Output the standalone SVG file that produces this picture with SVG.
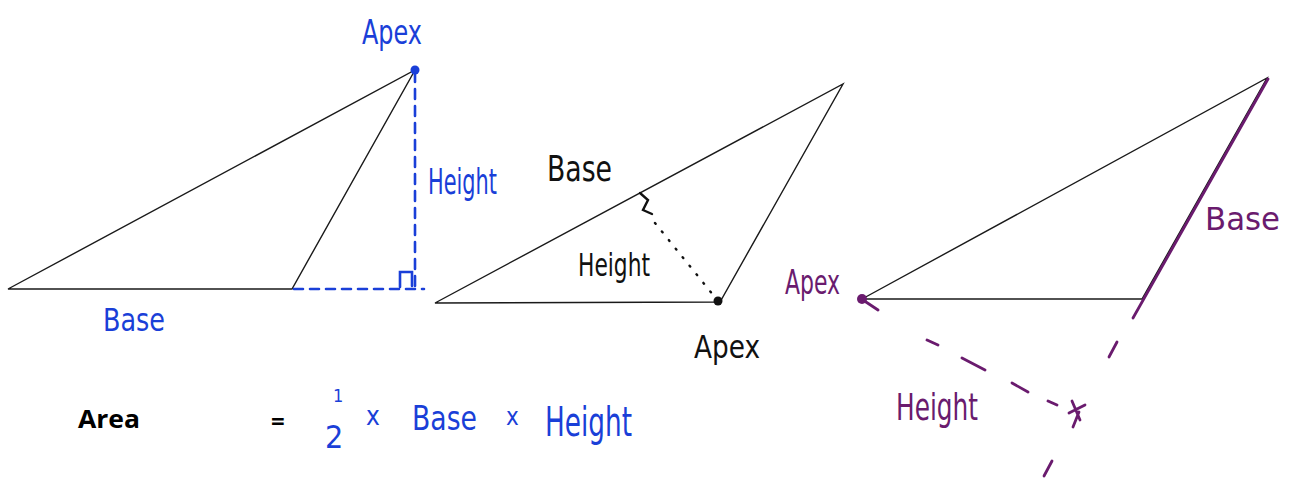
<svg xmlns="http://www.w3.org/2000/svg" width="1297" height="478" viewBox="0 0 1297 478">
<style>
.tri{fill:none;stroke:#1a1a1a;stroke-width:1.4;stroke-linejoin:miter}
.hw{font-family:"DejaVu Sans Condensed","DejaVu Sans","Liberation Sans",sans-serif}
.blue{fill:#1a3fd8}
.blk{fill:#111}
.pur{fill:#6a1b6e}
.bs{stroke:#1a3fd8;fill:none;stroke-width:2.6;stroke-linecap:round}
.ps{stroke:#6a1b6e;fill:none;stroke-width:2.8;stroke-linecap:round}
.ks{stroke:#111;fill:none;stroke-width:2.4;stroke-linecap:round}
</style>
<rect width="1297" height="478" fill="#fff"/>

<g id="triangle1">
<polygon class="tri" points="8,289 292,289 415,70"/>
<line class="bs" x1="415" y1="72" x2="415" y2="286" stroke-dasharray="10 7"/>
<line class="bs" x1="294" y1="289" x2="424" y2="289" stroke-dasharray="9 7"/>
<path class="bs" d="M400,287 L400,272 L412,272 L412,286"/>
<circle cx="415" cy="70" r="4.5" fill="#1a3fd8"/>
<text class="hw blue" x="362" y="44" font-size="34" textLength="60" lengthAdjust="spacingAndGlyphs">Apex</text>
<text class="hw blue" x="428" y="194" font-size="36" textLength="69" lengthAdjust="spacingAndGlyphs">Height</text>
<text class="hw blue" x="103" y="331" font-size="32" textLength="62" lengthAdjust="spacingAndGlyphs">Base</text>
</g>

<g id="triangle2">
<polygon class="tri" points="435,303 720,302 843,84"/>
<path class="ks" d="M640,193 L648,200 L643,210 L652,214"/>
<line class="ks" x1="655" y1="223" x2="714" y2="296" stroke-dasharray="1 10" stroke-width="3"/>
<circle cx="718" cy="301" r="4.5" fill="#111"/>
<text class="hw blk" x="547" y="181" font-size="36" textLength="65" lengthAdjust="spacingAndGlyphs">Base</text>
<text class="hw blk" x="578" y="276" font-size="32" textLength="72" lengthAdjust="spacingAndGlyphs">Height</text>
<text class="hw blk" x="694" y="358" font-size="32" textLength="66" lengthAdjust="spacingAndGlyphs">Apex</text>
</g>

<g id="triangle3">
<polygon class="tri" points="862,299 1142,299 1267,78"/>
<line class="ps" x1="1268" y1="79" x2="1133" y2="318"/>
<path class="ps" d="M1117,342 L1109,357 M1052,461 L1044,476"/>
<path class="ps" d="M863,300 L878,310 M927,340 L938,345 M962,358 L985,370 M1012,383 L1028,392 M1048,401 L1057,405"/>
<path class="ps" d="M1069,413 L1085,405 M1072,401 L1080,420 M1079,412 L1073,427"/>
<circle cx="862" cy="299" r="5" fill="#6a1b6e"/>
<text class="hw pur" x="785" y="294" font-size="34" textLength="55" lengthAdjust="spacingAndGlyphs">Apex</text>
<text class="hw pur" x="1205" y="230" font-size="32" textLength="75" lengthAdjust="spacingAndGlyphs">Base</text>
<text class="hw pur" x="896" y="420" font-size="38" textLength="82" lengthAdjust="spacingAndGlyphs">Height</text>
</g>

<g id="formula">
<text x="78" y="428" font-family="'Open Sans','Liberation Sans',sans-serif" font-weight="bold" font-size="25" fill="#000" textLength="62" lengthAdjust="spacingAndGlyphs">Area</text>
<text x="271" y="430" font-family="'Open Sans','Liberation Sans',sans-serif" font-weight="bold" font-size="24" fill="#000">=</text>
<text class="hw blue" x="333" y="402" font-size="18">1</text>
<text class="hw blue" x="325" y="448" font-size="32">2</text>
<text class="hw blue" x="366" y="425" font-size="26">x</text>
<text class="hw blue" x="412" y="430" font-size="34" textLength="65" lengthAdjust="spacingAndGlyphs">Base</text>
<text class="hw blue" x="506" y="425" font-size="24">x</text>
<text class="hw blue" x="545" y="436" font-size="40" textLength="87" lengthAdjust="spacingAndGlyphs">Height</text>
</g>
</svg>
